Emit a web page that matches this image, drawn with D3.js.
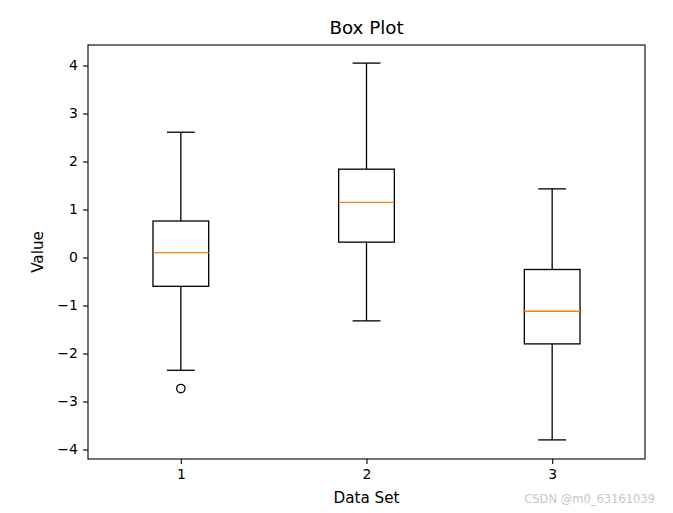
<!DOCTYPE html>
<html>
<head>
<meta charset="utf-8">
<script src="https://cdn.jsdelivr.net/npm/d3@7"></script>
<style>
  body { margin: 0; background: #fff; }
  svg text { font-family: "DejaVu Sans", sans-serif; fill: #000; }
</style>
</head>
<body>
<div class="container"></div>
<script>
// box statistics
const categories = [1, 2, 3];
const whiskerLow = [-2.35, -1.32, -3.80];
const q1 = [-0.60, 0.32, -1.80];
const medians = [0.10, 1.15, -1.12];
const q3 = [0.76, 1.84, -0.25];
const whiskerHigh = [2.61, 4.05, 1.43];
const outliers = [[-2.73], [], []];
const yTicks = [-4, -3, -2, -1, 0, 1, 2, 3, 4];

const width = 673;
const height = 513;
const margin = { top: 45, right: 28, bottom: 54, left: 88 };

const svg = d3.select(".container")
    .append("svg")
    .attr("width", width)
    .attr("height", height);

const x = d3.scaleLinear().domain([0.5, 3.5]).range([margin.left, width - margin.right]);
const y = d3.scaleLinear().domain([-4.198, 4.427]).range([height - margin.bottom, margin.top]);

const boxes = categories.map((c, i) => ({
    pos: c,
    lo: whiskerLow[i],
    q1: q1[i],
    med: medians[i],
    q3: q3[i],
    hi: whiskerHigh[i],
    fliers: outliers[i],
}));

const boxW = 0.3;
const capW = 0.15;
const lw = 1.3;

const g = svg.append("g");

// whiskers
g.selectAll("line.whisker-lo")
    .data(boxes)
    .enter()
    .append("line")
    .attr("x1", (d) => x(d.pos))
    .attr("x2", (d) => x(d.pos))
    .attr("y1", (d) => y(d.q1))
    .attr("y2", (d) => y(d.lo))
    .attr("stroke", "#000")
    .attr("stroke-width", lw);

g.selectAll("line.whisker-hi")
    .data(boxes)
    .enter()
    .append("line")
    .attr("x1", (d) => x(d.pos))
    .attr("x2", (d) => x(d.pos))
    .attr("y1", (d) => y(d.q3))
    .attr("y2", (d) => y(d.hi))
    .attr("stroke", "#000")
    .attr("stroke-width", lw);

// caps
["lo", "hi"].forEach((k) => {
    g.selectAll("line.cap-" + k)
        .data(boxes)
        .enter()
        .append("line")
        .attr("x1", (d) => x(d.pos - capW / 2))
        .attr("x2", (d) => x(d.pos + capW / 2))
        .attr("y1", (d) => y(d[k]))
        .attr("y2", (d) => y(d[k]))
        .attr("stroke", "#000")
        .attr("stroke-width", lw);
});

// boxes
g.selectAll("rect.box")
    .data(boxes)
    .enter()
    .append("rect")
    .attr("x", (d) => x(d.pos - boxW / 2))
    .attr("y", (d) => y(d.q3))
    .attr("width", (d) => x(d.pos + boxW / 2) - x(d.pos - boxW / 2))
    .attr("height", (d) => y(d.q1) - y(d.q3))
    .attr("fill", "none")
    .attr("stroke", "#000")
    .attr("stroke-width", lw);

// medians
g.selectAll("line.median")
    .data(boxes)
    .enter()
    .append("line")
    .attr("x1", (d) => x(d.pos - boxW / 2))
    .attr("x2", (d) => x(d.pos + boxW / 2))
    .attr("y1", (d) => y(d.med))
    .attr("y2", (d) => y(d.med))
    .attr("stroke", "#ff7f0e")
    .attr("stroke-width", lw);

// fliers
const fliers = boxes.flatMap((d) => d.fliers.map((v) => ({ pos: d.pos, v })));
g.selectAll("circle.flier")
    .data(fliers)
    .enter()
    .append("circle")
    .attr("cx", (d) => x(d.pos))
    .attr("cy", (d) => y(d.v))
    .attr("r", 4.2)
    .attr("fill", "none")
    .attr("stroke", "#000")
    .attr("stroke-width", lw);

// axes
const xAxis = d3.axisBottom(x).tickValues(categories).tickSize(5).tickPadding(5).tickFormat(d3.format("d"));
const yAxis = d3.axisLeft(y).tickValues(yTicks).tickSize(5).tickPadding(5)
    .tickFormat((d) => (d < 0 ? "\u2212" + Math.abs(d) : String(d)));

const gx = svg.append("g")
    .attr("transform", `translate(0, ${height - margin.bottom})`)
    .call(xAxis);
const gy = svg.append("g")
    .attr("transform", `translate(${margin.left}, 0)`)
    .call(yAxis);

[gx, gy].forEach((a) => {
    a.select(".domain").remove();
    a.selectAll(".tick line").attr("stroke", "#000").attr("stroke-width", 1.1);
    a.selectAll(".tick text").attr("font-size", "14px").attr("font-family", "DejaVu Sans, sans-serif");
});

// frame
svg.append("rect")
    .attr("x", margin.left)
    .attr("y", margin.top)
    .attr("width", width - margin.left - margin.right)
    .attr("height", height - margin.top - margin.bottom)
    .attr("fill", "none")
    .attr("stroke", "#000")
    .attr("stroke-width", 1.1);

// labels
svg.append("text")
    .attr("x", (margin.left + width - margin.right) / 2)
    .attr("y", 34)
    .attr("text-anchor", "middle")
    .attr("font-size", "18.3px")
    .text("Box Plot");

svg.append("text")
    .attr("x", (margin.left + width - margin.right) / 2)
    .attr("y", 503)
    .attr("text-anchor", "middle")
    .attr("font-size", "15.2px")
    .text("Data Set");

svg.append("text")
    .attr("transform", `translate(43, ${(margin.top + height - margin.bottom) / 2}) rotate(-90)`)
    .attr("text-anchor", "middle")
    .attr("font-size", "15.2px")
    .text("Value");

svg.append("text")
    .attr("x", 655)
    .attr("y", 503)
    .attr("text-anchor", "end")
    .attr("font-size", "11.5px")
    .style("fill", "#c8c8c8")
    .text("CSDN @m0_63161039");
</script>
</body>
</html>
